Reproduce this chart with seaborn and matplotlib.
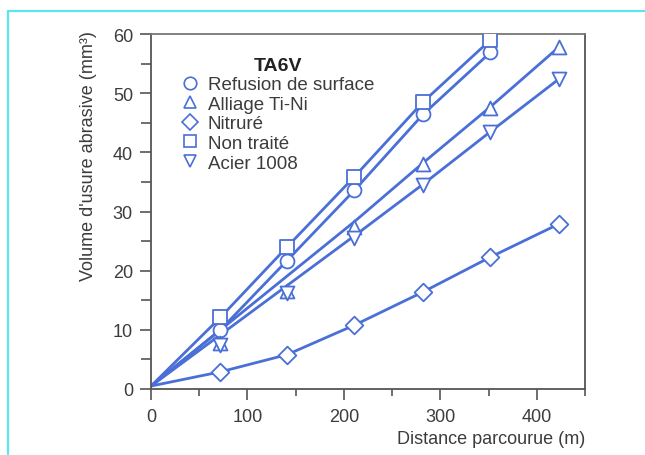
import matplotlib
matplotlib.use("Agg")
import matplotlib.pyplot as plt
from matplotlib.lines import Line2D
import pandas as pd
import seaborn as sns

# Distances (m) at which wear volume was measured
distance = [72, 141, 211, 282, 352, 423]

# Measured abrasive wear volume (mm³)
refusion = [10, 21.7, 33.6, 46.4, 56.9]
ti_ni = [7.8, 16.5, 27.3, 38.0, 47.5, 57.8]
nitrure = [2.9, 5.8, 10.8, 16.4, 22.3, 27.9]
non_traite = [12.1, 24.0, 35.9, 48.5, 59.0]
acier = [7.5, 16.3, 25.6, 34.4, 43.5, 52.4]

# Trend lines drawn through each series (from the origin)
trend_x_full = [0, 72, 141, 211, 282, 352]
refusion_trend = [0.5, 10, 21.7, 33.6, 46.4, 56.9]
non_traite_trend = [0.5, 12.1, 24.0, 35.9, 48.5, 59.0]
trend_x_fit = [0, 211, 282, 352, 423]
ti_ni_trend = [0.5, 28.3, 38.2, 47.7, 57.8]
acier_trend = [0.5, 25.9, 34.6, 43.5, 52.4]
trend_x_nit = [0, 72, 141, 211, 282, 352, 423]
nitrure_trend = [0.5, 2.9, 5.8, 10.8, 16.4, 22.3, 27.9]

labels = ["Refusion de surface", "Alliage Ti-Ni", "Nitruré", "Non traité", "Acier 1008"]
markers = {"Refusion de surface": "o", "Alliage Ti-Ni": "^", "Nitruré": "D",
           "Non traité": "s", "Acier 1008": "v"}
msizes = {"Refusion de surface": 10, "Alliage Ti-Ni": 10, "Nitruré": 9,
          "Non traité": 10, "Acier 1008": 10}

series = {
    "Refusion de surface": (distance[:5], refusion),
    "Alliage Ti-Ni": (distance, ti_ni),
    "Nitruré": (distance, nitrure),
    "Non traité": (distance[:5], non_traite),
    "Acier 1008": (distance, acier),
}
trends = {
    "Refusion de surface": (trend_x_full, refusion_trend),
    "Alliage Ti-Ni": (trend_x_fit, ti_ni_trend),
    "Nitruré": (trend_x_nit, nitrure_trend),
    "Non traité": (trend_x_full, non_traite_trend),
    "Acier 1008": (trend_x_fit, acier_trend),
}

lns = pd.concat([pd.DataFrame({"d": x, "v": y, "s": k}) for k, (x, y) in trends.items()])

sns.set_theme(style="ticks")
plt.rcParams["font.family"] = ["Liberation Sans", "DejaVu Sans"]

blue = "#4a6fd6"
gray = "#3c3c3c"

fig = plt.figure(figsize=(6.45, 4.56), dpi=100)
ax = fig.add_axes([151 / 645, 1 - 390 / 456, (585 - 151) / 645, (390 - 35) / 456])

sns.lineplot(data=lns, x="d", y="v", units="s", estimator=None, sort=False,
             color=blue, linewidth=2.0, ax=ax, legend=False)
for name in labels:
    x, y = series[name]
    sub = pd.DataFrame({"d": x, "v": y})
    sns.scatterplot(data=sub, x="d", y="v", marker=markers[name], s=msizes[name] ** 2,
                    facecolor="white", edgecolor=blue, linewidth=1.3, ax=ax,
                    zorder=4, legend=False)

ax.set_xlim(0, 450)
ax.set_ylim(0, 60)
ax.set_xticks([0, 100, 200, 300, 400])
ax.set_xticks([50, 150, 250, 350, 450], minor=True)
ax.set_yticks([0, 10, 20, 30, 40, 50, 60])
ax.set_yticks([5, 15, 25, 35, 45, 55], minor=True)
ax.tick_params(axis="both", which="major", labelsize=13, labelcolor=gray,
               color="#555555", width=1.2, direction="out")
ax.tick_params(axis="x", which="major", length=8, pad=6)
ax.tick_params(axis="x", which="minor", length=5, width=1.2, color="#555555")
ax.tick_params(axis="y", which="major", length=8, pad=5)
ax.tick_params(axis="y", which="minor", length=7, width=1.2, color="#555555")
for sp in ax.spines.values():
    sp.set_visible(True)
    sp.set_color("#555555")
    sp.set_linewidth(1.3)
ax.spines["top"].set_color("#777777")

ax.set_xlabel("Distance parcourue (m)", fontsize=13, color=gray, labelpad=2)
ax.xaxis.set_label_coords(1.0, -0.115)
ax.xaxis.label.set_horizontalalignment("right")
ax.set_ylabel("Volume d'usure abrasive (mm³)", fontsize=13, color=gray, labelpad=8)
ax.yaxis.label.set_verticalalignment("center")
ax.yaxis.set_label_coords(-0.145, 0.66)

handles = [Line2D([], [], linestyle="none", marker=markers[n], markersize=msizes[n] - 1,
                  markerfacecolor="white", markeredgecolor=blue, markeredgewidth=1.2)
           for n in labels]
leg = ax.legend(handles, labels, title="TA6V", loc="upper left",
                bbox_to_anchor=(0.053, 0.957), frameon=False, fontsize=13.5,
                handlelength=0.9, handletextpad=0.5, labelspacing=0.13,
                borderaxespad=0.0,
                title_fontproperties={"weight": "bold", "size": 14})
for t in leg.get_texts():
    t.set_color(gray)
leg.get_title().set_color("#222222")

# Cyan page frame
cyan = "#5fe3ee"
fig.add_artist(Line2D([8 / 645, 1.0], [1 - 12 / 456, 1 - 12 / 456], color=cyan, linewidth=1.6))
fig.add_artist(Line2D([8 / 645, 8 / 645], [0.0, 1 - 12 / 456], color=cyan, linewidth=1.6))

fig.savefig("out.png", dpi=100, facecolor="white")
